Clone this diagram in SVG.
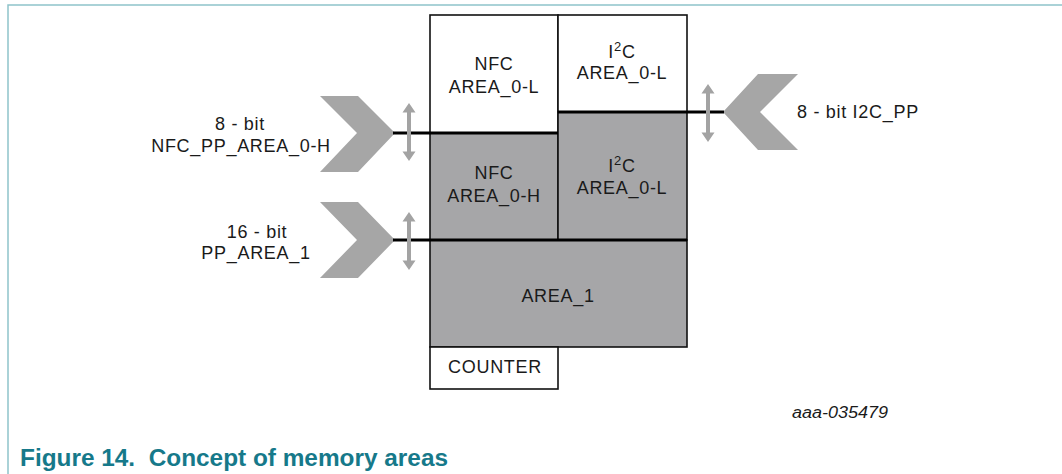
<svg xmlns="http://www.w3.org/2000/svg" width="1062" height="474" viewBox="0 0 1062 474">
<style>
.t{font-family:"Liberation Sans",Arial,sans-serif;font-size:18px;fill:#1a1a1a;letter-spacing:0.7px}
.c{text-anchor:middle}
.w{fill:#ffffff;stroke:#111;stroke-width:1.6}
.g{fill:#a6a6a8;stroke:#111;stroke-width:1.6}
.bus{stroke:#000;stroke-width:3.2;fill:none}
.chev{fill:#a6a6a6}
.dbl{fill:#a3a3a3}
.frame{stroke:#8fc3ca;stroke-width:1.5;fill:none}
</style>
<defs>
<path id="darr" d="M0,0 L6.5,9.5 L2,9.5 L2,48.5 L6.5,48.5 L0,58 L-6.5,48.5 L-2,48.5 L-2,9.5 L-6.5,9.5 Z"/>
</defs>
<rect width="1062" height="474" fill="#ffffff"/>
<path class="frame" d="M8,474 L8,5 L1062,5"/>

<g id="cell-nfc-l"><rect class="w" x="430" y="15" width="128" height="118"/>
<text class="t c" x="494" y="70">NFC</text><text class="t c" x="494" y="93">AREA_0-L</text></g>
<g id="cell-i2c-l-top"><rect class="w" x="558" y="15" width="129" height="97"/>
<text class="t c" x="622" y="57.5">I<tspan font-size="13" dy="-7">2</tspan><tspan dy="7">C</tspan></text><text class="t c" x="622" y="79">AREA_0-L</text></g>
<g id="cell-nfc-h"><rect class="g" x="430" y="133" width="128" height="107"/>
<text class="t c" x="494" y="179">NFC</text><text class="t c" x="494" y="202">AREA_0-H</text></g>
<g id="cell-i2c-l-bot"><rect class="g" x="558" y="112" width="129" height="128"/>
<text class="t c" x="622" y="172">I<tspan font-size="13" dy="-7">2</tspan><tspan dy="7">C</tspan></text><text class="t c" x="622" y="194">AREA_0-L</text></g>
<g id="cell-area1"><rect class="g" x="430" y="240" width="257" height="107"/>
<text class="t c" x="558" y="302">AREA_1</text></g>
<g id="cell-counter"><rect class="w" x="430" y="347" width="128" height="42"/>
<text class="t c" x="495" y="373">COUNTER</text></g>

<g id="port-nfc-pp"><polygon class="chev" points="320,96 358,96 395,133 358,172 320,172 357,133"/>
<text class="t c" x="240" y="130">8 - bit</text><text class="t c" x="241" y="152">NFC_PP_AREA_0-H</text></g>
<g id="port-pp-area1"><polygon class="chev" points="320,202 358,202 395,240 358,278 320,278 357,240"/>
<text class="t c" x="257" y="238">16 - bit</text><text class="t c" x="256" y="259">PP_AREA_1</text></g>
<g id="port-i2c-pp"><polygon class="chev" points="798,74 758,74 723,112 758,150 798,150 760,112"/>
<text class="t" x="797" y="118">8 - bit I2C_PP</text></g>

<g id="connectors">
<line class="bus" x1="393" y1="133" x2="558" y2="133"/>
<line class="bus" x1="393" y1="240" x2="687" y2="240"/>
<line class="bus" x1="558" y1="112" x2="724" y2="112"/>
<use href="#darr" class="dbl" x="409" y="103"/>
<use href="#darr" class="dbl" x="409" y="212"/>
<use href="#darr" class="dbl" x="708" y="84"/>
</g>

<text x="792" y="418" font-family="Liberation Sans,Arial,sans-serif" font-size="16" font-style="italic" fill="#1a1a1a" textLength="96" lengthAdjust="spacingAndGlyphs">aaa-035479</text>
<text x="20" y="466" font-family="Liberation Sans,Arial,sans-serif" font-size="23" font-weight="bold" fill="#16798a" xml:space="preserve" textLength="428" lengthAdjust="spacingAndGlyphs">Figure 14.  Concept of memory areas</text>
</svg>
